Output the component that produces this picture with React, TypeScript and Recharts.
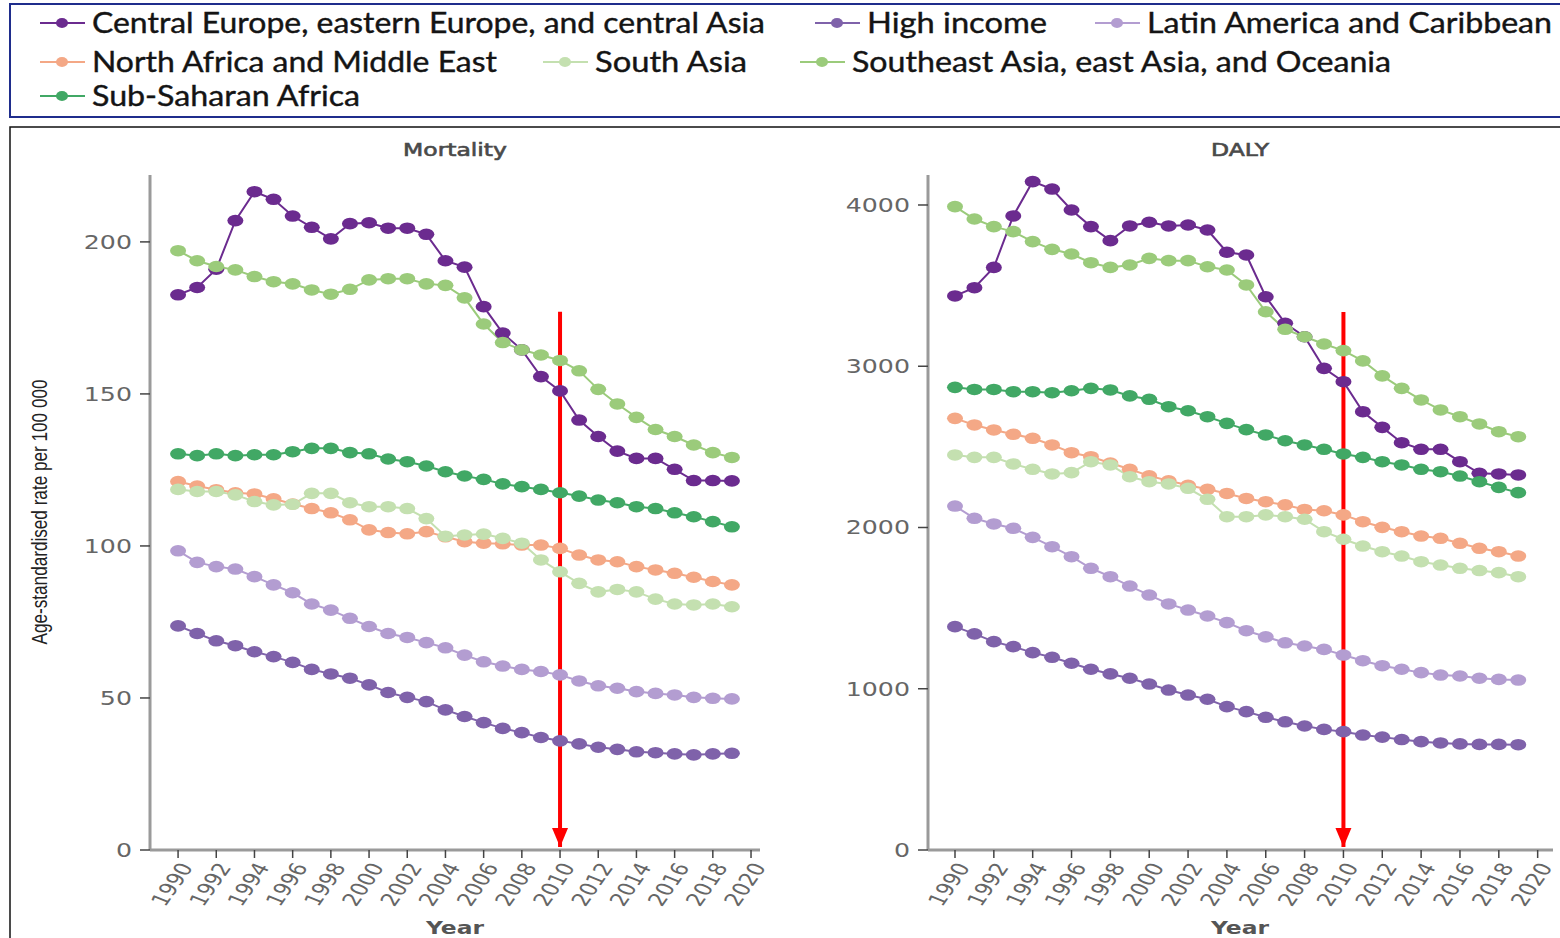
import { LineChart, Line, XAxis, YAxis, ReferenceLine, ReferenceDot } from "recharts";

document.body.style.margin = "0";

const years = [
  1990, 1991, 1992, 1993, 1994, 1995, 1996, 1997, 1998, 1999, 2000, 2001, 2002, 2003, 2004,
  2005, 2006, 2007, 2008, 2009, 2010, 2011, 2012, 2013, 2014, 2015, 2016, 2017, 2018, 2019,
];
const xTicks = [1990, 1992, 1994, 1996, 1998, 2000, 2002, 2004, 2006, 2008, 2010, 2012, 2014, 2016, 2018, 2020];
const mortalityTicks = [0, 50, 100, 150, 200];
const dalyTicks = [0, 1000, 2000, 3000, 4000];

const regionNames = [
  "Central Europe, eastern Europe, and central Asia",
  "High income",
  "Latin America and Caribbean",
  "North Africa and Middle East",
  "South Asia",
  "Southeast Asia, east Asia, and Oceania",
  "Sub-Saharan Africa",
];
const regionColors = ["#6b2b8f", "#7f62aa", "#b39dd1", "#f4a886", "#c4e0b0", "#9bcb7b", "#41a865"];

// Mortality, age-standardised rate per 100 000
const mortalityCE = [182.6, 185, 191, 207, 216.5, 214, 208.5, 204.8, 201, 206, 206.3, 204.5, 204.5, 202.5, 193.8, 191.7, 178.7, 170, 164.5, 155.7, 151, 141.4, 136, 131.2, 128.8, 128.8, 125.2, 121.5, 121.5, 121.4];
const mortalityHI = [73.7, 71.2, 68.8, 67.2, 65.2, 63.6, 61.7, 59.4, 57.9, 56.5, 54.3, 51.8, 50.2, 48.8, 46.1, 43.9, 41.9, 40, 38.6, 37, 35.9, 34.9, 33.8, 33.1, 32.3, 32, 31.6, 31.3, 31.6, 31.8];
const mortalityLA = [98.4, 94.6, 93.2, 92.4, 89.9, 87.2, 84.6, 80.9, 78.9, 76.2, 73.5, 71.2, 69.9, 68.2, 66.5, 64.1, 61.9, 60.5, 59.4, 58.7, 57.6, 55.6, 54, 53.2, 52.1, 51.5, 51, 50.2, 49.9, 49.7];
const mortalityNA = [121.2, 119.7, 118.5, 117.5, 117.1, 115.5, 113.8, 112.3, 110.9, 108.6, 105.3, 104.4, 104, 104.7, 103, 101.4, 100.9, 100.7, 100.3, 100.3, 99.2, 97, 95.4, 94.8, 93.2, 92.1, 91, 89.7, 88.3, 87.2];
const mortalitySA = [118.6, 117.9, 117.9, 116.8, 114.6, 113.5, 113.7, 117.3, 117.3, 114.2, 112.9, 112.9, 112.3, 109, 103.2, 103.6, 103.9, 102.5, 100.9, 95.4, 91.5, 87.7, 84.9, 85.7, 84.9, 82.5, 80.9, 80.6, 80.9, 80];
const mortalitySEA = [197.1, 193.8, 191.9, 190.8, 188.6, 186.9, 186.2, 184.2, 182.8, 184.4, 187.5, 187.9, 187.9, 186.2, 185.7, 181.6, 173, 166.9, 164.5, 162.8, 161, 157.6, 151.5, 146.7, 142.3, 138.3, 136, 133.2, 130.7, 129.1];
const mortalitySSA = [130.3, 129.7, 130.3, 129.7, 130, 130, 131, 132.1, 132.1, 130.7, 130.3, 128.6, 127.7, 126.3, 124.4, 123, 121.9, 120.4, 119.5, 118.6, 117.5, 116.4, 115.1, 114.2, 112.9, 112.3, 110.9, 109.6, 108, 106.3];

// DALY, age-standardised rate per 100 000
const dalyCE = [3436, 3487, 3613, 3932, 4145, 4099, 3969, 3866, 3779, 3870, 3893, 3870, 3876, 3845, 3707, 3690, 3431, 3266, 3183, 2987, 2904, 2718, 2621, 2526, 2485, 2485, 2408, 2336, 2332, 2326];
const dalyHI = [1385, 1340, 1292, 1261, 1224, 1195, 1158, 1121, 1092, 1065, 1029, 992, 961, 935, 889, 858, 823, 795, 769, 748, 734, 713, 700, 685, 672, 664, 658, 655, 655, 653];
const dalyLA = [2133, 2057, 2022, 1995, 1939, 1881, 1819, 1747, 1695, 1637, 1581, 1526, 1488, 1451, 1410, 1360, 1322, 1285, 1265, 1244, 1209, 1174, 1143, 1121, 1100, 1085, 1079, 1065, 1058, 1054];
const dalyNA = [2677, 2636, 2605, 2578, 2553, 2512, 2464, 2439, 2400, 2361, 2320, 2290, 2262, 2237, 2211, 2180, 2160, 2140, 2112, 2104, 2078, 2036, 2001, 1974, 1947, 1933, 1902, 1871, 1850, 1823];
const dalySA = [2450, 2435, 2435, 2394, 2361, 2332, 2340, 2408, 2388, 2315, 2284, 2270, 2243, 2175, 2067, 2067, 2078, 2067, 2051, 1974, 1927, 1885, 1850, 1823, 1788, 1767, 1747, 1733, 1720, 1695];
const dalySEA = [3990, 3913, 3866, 3835, 3773, 3725, 3696, 3642, 3613, 3628, 3669, 3655, 3655, 3617, 3597, 3504, 3338, 3229, 3183, 3138, 3097, 3033, 2940, 2863, 2791, 2729, 2687, 2642, 2594, 2563];
const dalySSA = [2869, 2856, 2856, 2842, 2842, 2836, 2848, 2863, 2853, 2816, 2795, 2749, 2724, 2687, 2646, 2607, 2574, 2538, 2512, 2485, 2456, 2435, 2408, 2388, 2361, 2346, 2319, 2284, 2249, 2216];

// red arrow marking 2010: [top, tip] in data units
const arrowYear = 2010;
const mortalityArrow = [177, 1];
const dalyArrow = [3337, 18];

const FONT = "DejaVu Sans";

function buildRows(series: number[][]) {
  return years.map((year, i) => {
    const row: Record<string, number> = { year };
    series.forEach((s, k) => {
      row[`s${k}`] = s[i];
    });
    return row;
  });
}

const mortalityRows = buildRows([mortalityCE, mortalityHI, mortalityLA, mortalityNA, mortalitySA, mortalitySEA, mortalitySSA]);
const dalyRows = buildRows([dalyCE, dalyHI, dalyLA, dalyNA, dalySA, dalySEA, dalySSA]);

const makeDot = (color: string) => (props: any) => {
  const { cx, cy, index } = props;
  if (cx == null || cy == null) return <g key={`e-${index}`} />;
  return <ellipse key={`d-${index}`} cx={cx} cy={cy} rx={8} ry={5.8} fill={color} />;
};

const YTick = (props: any) => {
  const { x, y, payload } = props;
  return (
    <g transform={`translate(${x},${y})`}>
      <text transform="scale(1.33,1)" textAnchor="end" dy="0.36em" fontSize={19} fill="#666" fontFamily={FONT}>
        {payload.value}
      </text>
    </g>
  );
};

const XTick = (props: any) => {
  const { x, y, payload } = props;
  return (
    <g transform={`translate(${x + 8},${y + 4})`}>
      <text transform="scale(1.33,1) rotate(-62)" textAnchor="end" dy="0.36em" fontSize={18} fill="#666" fontFamily={FONT}>
        {payload.value}
      </text>
    </g>
  );
};

const ArrowHead = (props: any) => {
  const { cx, cy } = props;
  return <polygon points={`${cx - 8},${cy - 19} ${cx + 8},${cy - 19} ${cx},${cy}`} fill="#ff0000" />;
};

interface PanelProps {
  rows: Record<string, number>[];
  yMax: number;
  yTicks: number[];
  xDomain: [number, number];
  arrow: number[];
  marginLeft: number;
  marginRight: number;
}

function Panel({ rows, yMax, yTicks, xDomain, arrow, marginLeft, marginRight }: PanelProps) {
  return (
    <LineChart width={790} height={808} data={rows} margin={{ top: 45, right: marginRight, bottom: 8, left: marginLeft }}>
      <XAxis
        dataKey="year"
        type="number"
        domain={xDomain}
        ticks={xTicks}
        height={80}
        tickSize={8}
        tickMargin={2}
        tick={<XTick />}
        axisLine={{ stroke: "#9a9a9a", strokeWidth: 3 }}
        tickLine={{ stroke: "#444", strokeWidth: 1.5 }}
        interval={0}
      />
      <YAxis
        type="number"
        domain={[0, yMax]}
        ticks={yTicks}
        width={100}
        tickSize={10}
        tickMargin={8}
        tick={<YTick />}
        axisLine={{ stroke: "#9a9a9a", strokeWidth: 3 }}
        tickLine={{ stroke: "#444", strokeWidth: 1.5 }}
        interval={0}
      />
      {regionNames.map((name, k) => (
        <Line
          key={name}
          name={name}
          dataKey={`s${k}`}
          type="linear"
          stroke={regionColors[k]}
          strokeWidth={2}
          dot={makeDot(regionColors[k])}
          activeDot={false}
          isAnimationActive={false}
        />
      ))}
      <ReferenceLine
        segment={[
          { x: arrowYear, y: arrow[0] },
          { x: arrowYear, y: arrow[1] },
        ]}
        stroke="#ff0000"
        strokeWidth={4}
        ifOverflow="visible"
      />
      <ReferenceDot x={arrowYear} y={arrow[1]} r={1} shape={<ArrowHead />} ifOverflow="visible" />
    </LineChart>
  );
}

// legend placement: [marker x, row y, text width]
const legendLayout: [number, number, number][] = [
  [40, 23, 673],
  [815, 23, 180],
  [1095, 23, 405],
  [40, 62, 405],
  [543, 62, 152],
  [800, 62, 539],
  [40, 96, 268],
];

function Overlay() {
  return (
    <svg width={1560} height={938} style={{ position: "absolute", left: 0, top: 0 }}>
      <rect x={10} y={4} width={1600} height={113} fill="none" stroke="#1f2d8c" strokeWidth={2} />
      {regionNames.map((name, k) => {
        const [x, y, w] = legendLayout[k];
        return (
          <g key={name}>
            <line x1={x} y1={y} x2={x + 45} y2={y} stroke={regionColors[k]} strokeWidth={2} />
            <ellipse cx={x + 22} cy={y} rx={6} ry={5} fill={regionColors[k]} />
            <text
              x={x + 52}
              y={y}
              dy="0.36em"
              fontFamily="Lato"
              fontSize={29}
              fill="#141414"
              stroke="#141414"
              strokeWidth={0.4}
              textLength={w}
              lengthAdjust="spacingAndGlyphs"
            >
              {name}
            </text>
          </g>
        );
      })}
      <rect x={10} y={127} width={1600} height={900} fill="none" stroke="#111" strokeWidth={1.5} />
      <g transform="translate(455,150) scale(1.38,1)">
        <text textAnchor="middle" dy="0.36em" fontSize={17} fill="#4a4a4a" stroke="#4a4a4a" strokeWidth={0.6} fontFamily={FONT}>
          Mortality
        </text>
      </g>
      <g transform="translate(1240,150) scale(1.38,1)">
        <text textAnchor="middle" dy="0.36em" fontSize={17} fill="#4a4a4a" stroke="#4a4a4a" strokeWidth={0.6} fontFamily={FONT}>
          DALY
        </text>
      </g>
      <g transform="translate(455,928) scale(1.3,1)">
        <text textAnchor="middle" dy="0.36em" fontSize={18} fontWeight="bold" fill="#555" fontFamily={FONT}>
          Year
        </text>
      </g>
      <g transform="translate(1240,928) scale(1.3,1)">
        <text textAnchor="middle" dy="0.36em" fontSize={18} fontWeight="bold" fill="#555" fontFamily={FONT}>
          Year
        </text>
      </g>
      <text
        transform="translate(39,512) rotate(-90)"
        textAnchor="middle"
        dy="0.35em"
        fontSize={22}
        fill="#222"
        fontFamily="Liberation Sans Narrow, Liberation Sans"
        textLength={265}
        lengthAdjust="spacingAndGlyphs"
      >
        Age-standardised rate per 100 000
      </text>
    </svg>
  );
}

export default function App() {
  return (
    <div style={{ position: "relative", width: 1560, height: 938, overflow: "hidden", background: "#fff" }}>
      <Overlay />
      <div style={{ position: "absolute", left: 0, top: 130 }}>
        <Panel
          rows={mortalityRows}
          yMax={222}
          yTicks={mortalityTicks}
          xDomain={[1988.53, 2020.47]}
          arrow={mortalityArrow}
          marginLeft={50}
          marginRight={30}
        />
      </div>
      <div style={{ position: "absolute", left: 780, top: 130 }}>
        <Panel
          rows={dalyRows}
          yMax={4186}
          yTicks={dalyTicks}
          xDomain={[1988.61, 2020.79]}
          arrow={dalyArrow}
          marginLeft={48}
          marginRight={17}
        />
      </div>
    </div>
  );
}
